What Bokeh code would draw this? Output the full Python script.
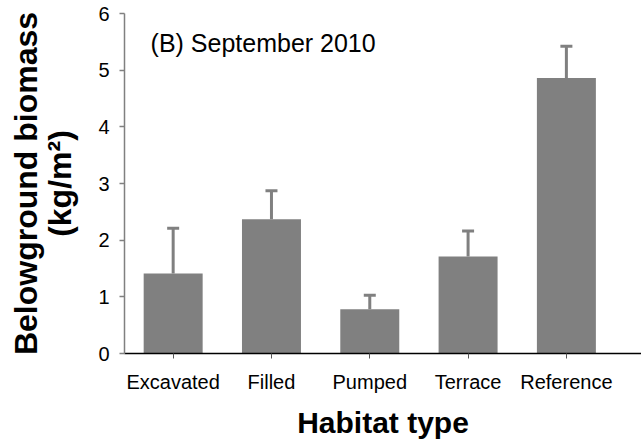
from bokeh.plotting import figure
from bokeh.models import Range1d, FixedTicker, Whisker, TeeHead, ColumnDataSource, Label
from bokeh.embed import file_html
from bokeh.resources import INLINE

# Data
categories = ["Excavated", "Filled", "Pumped", "Terrace", "Reference"]
biomass = [1.41, 2.37, 0.78, 1.71, 4.86]
errors = [0.80, 0.50, 0.25, 0.45, 0.56]
y_ticks = [0, 1, 2, 3, 4, 5, 6]
title_text = "(B) September 2010"

xs = list(range(1, len(categories) + 1))
upper = [v + e for v, e in zip(biomass, errors)]
src = ColumnDataSource(dict(x=xs, top=biomass, lower=biomass, upper=upper))

FONT = "Liberation Sans"
GRAY = "#808080"

p = figure(frame_width=517, frame_height=340, output_backend="svg", toolbar_location=None,
           x_range=Range1d(0.505, 5.764), y_range=Range1d(0, 6),
           min_border_left=124, min_border_right=0, min_border_top=13, min_border_bottom=90)
p.outline_line_color = None
p.xgrid.visible = False
p.ygrid.visible = False

p.vbar(x="x", top="top", width=0.6, source=src, fill_color=GRAY, line_color=None)

w = Whisker(base="x", lower="lower", upper="upper", source=src, dimension="height",
            line_color=GRAY, line_width=3,
            upper_head=TeeHead(size=12, line_color=GRAY, line_width=3), lower_head=None)
p.add_layout(w)

# x axis
p.xaxis.ticker = FixedTicker(ticks=xs)
p.xaxis.major_label_overrides = {x: c for x, c in zip(xs, categories)}
p.xaxis.minor_tick_line_color = None
p.xaxis.axis_line_color = "black"
p.xaxis.axis_line_width = 1.5
p.xaxis.major_tick_line_color = "#555555"
p.xaxis.major_tick_in = 0
p.xaxis.major_tick_out = 5
p.xaxis.major_label_standoff = 12
p.xaxis.major_label_text_font = FONT
p.xaxis.major_label_text_font_size = "20px"
p.xaxis.major_label_text_color = "black"
p.xaxis.axis_label = "Habitat type"
p.xaxis.axis_label_text_font = FONT
p.xaxis.axis_label_text_font_style = "bold"
p.xaxis.axis_label_text_font_size = "30px"
p.xaxis.axis_label_text_color = "black"
p.xaxis.axis_label_standoff = 10

# y axis
p.yaxis.ticker = FixedTicker(ticks=y_ticks)
p.yaxis.minor_tick_line_color = None
p.yaxis.axis_line_color = GRAY
p.yaxis.axis_line_width = 1.5
p.yaxis.major_tick_line_color = GRAY
p.yaxis.major_tick_line_width = 1.5
p.yaxis.major_tick_in = 0
p.yaxis.major_tick_out = 5
p.yaxis.major_label_standoff = 10
p.yaxis.major_label_text_font = FONT
p.yaxis.major_label_text_font_size = "20px"
p.yaxis.major_label_text_color = "black"
p.yaxis.axis_label = "Belowground biomass\n(kg/m²)"
p.yaxis.axis_label_text_font = FONT
p.yaxis.axis_label_text_font_style = "bold"
p.yaxis.axis_label_text_font_size = "32px"
p.yaxis.axis_label_text_color = "black"
p.yaxis.axis_label_text_line_height = 0.95
p.yaxis.axis_label_standoff = 17

title_x = 0.77
title_y = 5.48
p.add_layout(Label(x=title_x, y=title_y, text=title_text, text_font=FONT,
                   text_font_size="25px", text_color="black", text_baseline="middle"))

open("out.html", "w").write(file_html(p, INLINE))
